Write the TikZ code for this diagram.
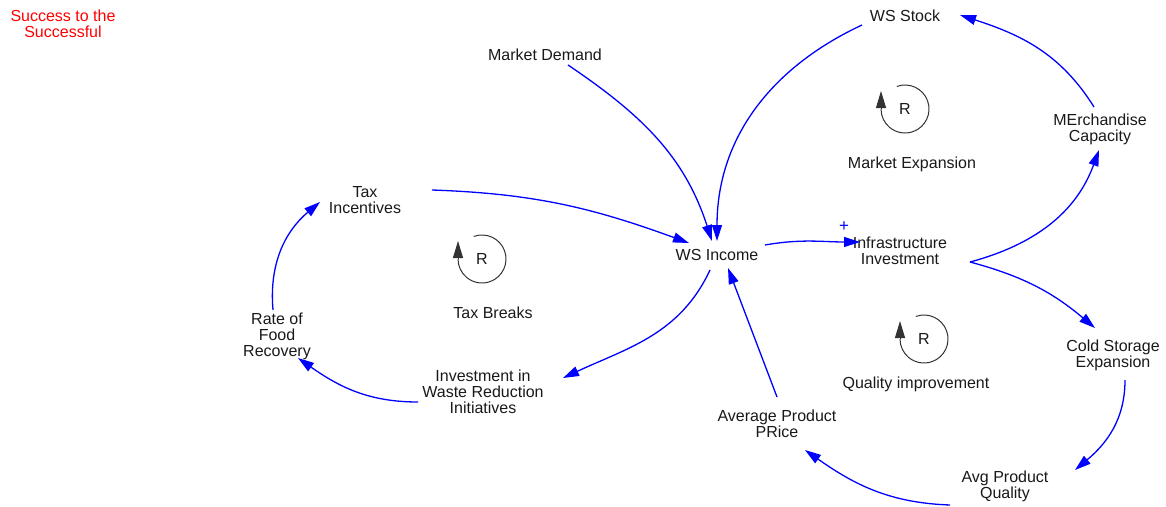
\documentclass[tikz,border=0pt]{standalone}
\usepackage{fontspec}
\setmainfont{Liberation Sans}
\usetikzlibrary{arrows.meta}
\begin{document}
\begin{tikzpicture}[x=1pt,y=1pt,
  lbl/.style={font=\fontsize{16}{16}\selectfont, align=center, inner sep=0pt, text=black!90},
  link/.style={draw=blue, line width=1.3pt, -{Triangle[length=16pt,width=10pt]}},
  loopc/.style={draw=black!80, line width=1pt},
  looparrow/.style={draw=black!80, line width=1pt, -{Triangle[length=17pt,width=10pt]}}]
\useasboundingbox (0,0) rectangle (1166,-506);
% title
\node[lbl, text=red] (title) at (63,-24) {Success to the\\Successful};
% variables
\node[lbl] (wss) at (905,-16) {WS Stock};
\node[lbl] (md) at (545,-55) {Market Demand};
\node[lbl] (mc) at (1100,-129) {MErchandise\\Capacity};
\node[lbl] (ti) at (365,-200) {Tax\\Incentives};
\node[lbl] (inc) at (717,-255) {WS Income};
\node[lbl] (ii) at (900,-251) {Infrastructure\\Investment};
\node[lbl] (rf) at (277,-336) {Rate of\\Food\\Recovery};
\node[lbl] (iw) at (483,-392) {Investment in\\Waste Reduction\\Initiatives};
\node[lbl] (ap) at (777,-424) {Average Product\\PRice};
\node[lbl] (cs) at (1113,-355) {Cold Storage\\Expansion};
\node[lbl] (aq) at (1005,-486) {Avg Product\\Quality};
\node[font=\fontsize{17}{17}\selectfont, text=blue, inner sep=0pt] (plus) at (844,-227) {+};
% loops
\node[lbl] (r1) at (905,-109) {R};
\node[lbl] (l1) at (912,-164) {Market Expansion};
\node[lbl] (r2) at (482,-259) {R};
\node[lbl] (l2) at (493,-313) {Tax Breaks};
\node[lbl] (r3) at (924,-339) {R};
\node[lbl] (l3) at (916,-384) {Quality improvement};
\foreach \r in {r1,r2,r3}{
  \draw[loopc] (\r.center) ++(110:24) arc[start angle=110, end angle=-180, radius=24];
  \draw[looparrow] ([xshift=-24pt]\r.center) -- ++(0,18);
}
% links
\draw[link] ([shift={(23,-10)}]md.center) to[out=-34,in=108] ([shift={(-5,14)}]inc.center);
\draw[link] ([shift={(-43,-9)}]wss.center) to[out=-155,in=90] ([shift={(0,14)}]inc.center);
\draw[link] ([shift={(67,10)}]ti.center) to[out=-2,in=160] ([shift={(-28,12)}]inc.center);
\draw[link] ([shift={(48,10)}]inc.center) to[out=10,in=180] ([shift={(-40,9)}]ii.center);
\draw[link] ([shift={(70,-11)}]ii.center) to[out=15,in=-110] ([shift={(-1,-21)}]mc.center);
\draw[link] ([shift={(-6,22)}]mc.center) to[out=122,in=-18] ([shift={(55,1)}]wss.center);
\draw[link] ([shift={(70,-11)}]ii.center) to[out=-15,in=140] ([shift={(-18,27)}]cs.center);
\draw[link] ([shift={(12,-25)}]cs.center) to[out=-90,in=40] ([shift={(70,16)}]aq.center);
\draw[link] ([shift={(-55,-19)}]aq.center) to[out=178,in=-35] ([shift={(28,-26)}]ap.center);
\draw[link] ([shift={(0,27)}]ap.center) -- ([shift={(11,-13)}]inc.center);
\draw[link] ([shift={(-7,-15)}]inc.center) to[out=-115,in=25] ([shift={(80,14)}]iw.center);
\draw[link] ([shift={(-65,-10)}]iw.center) to[out=180,in=-35] ([shift={(21,-22)}]rf.center);
\draw[link] ([shift={(-4,26)}]rf.center) to[out=95,in=-140] ([shift={(-45,-2)}]ti.center);
\end{tikzpicture}
\end{document}
